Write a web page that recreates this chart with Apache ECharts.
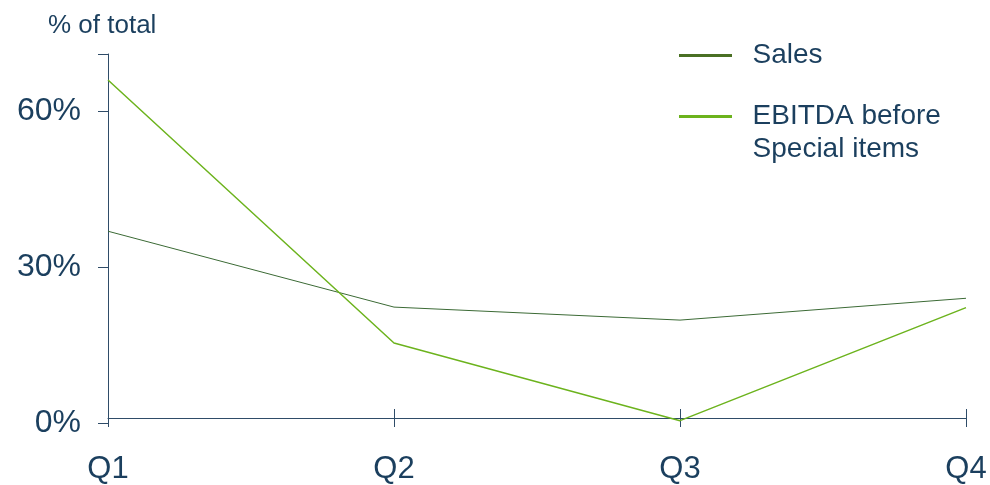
<!DOCTYPE html>
<html>
<head>
<meta charset="utf-8">
<script src="https://cdn.jsdelivr.net/npm/echarts@6/dist/echarts.min.js"></script>
<style>
  html, body { margin: 0; padding: 0; background: #fff; }
  #chart { width: 990px; height: 485px; }
</style>
</head>
<body>
<div id="chart"></div>
<script>
const quarters = ['Q1', 'Q2', 'Q3', 'Q4'];
const sales = [36.9, 22.3, 19.8, 24.0];
const ebitda = [66.0, 15.4, 0.45, 22.2];
const seriesNames = ['Sales', 'EBITDA before\nSpecial items'];

const textColor = '#1b3f5e';
const axisColor = '#2f4c68';
const font = 'Liberation Sans, Arial, sans-serif';

// legend text sits ~19px right of the line icon, first line level with icon
const legendLabel = name => {
  const lines = name.split('\n').map(s => '  ' + s);
  if (lines.length > 1) lines.unshift('\u00a0');
  return lines.join('\n');
};

const chart = echarts.init(document.getElementById('chart'));

const option = {
  animation: false,
  title: {
    text: '% of total',
    left: 48,
    top: 13,
    padding: 0,
    textStyle: { fontFamily: font, fontSize: 26, fontWeight: 'normal', color: textColor }
  },
  legend: [
    {
      data: [seriesNames[0]],
      left: 679,
      top: 39,
      padding: 0,
      icon: 'rect',
      itemWidth: 53,
      itemHeight: 3,
      formatter: legendLabel,
      textStyle: { fontFamily: font, fontSize: 28, color: textColor, lineHeight: 33 }
    },
    {
      data: [seriesNames[1]],
      left: 679,
      top: 67,
      padding: 0,
      icon: 'rect',
      itemWidth: 53,
      itemHeight: 3,
      formatter: legendLabel,
      textStyle: { fontFamily: font, fontSize: 28, color: textColor, lineHeight: 33 }
    }
  ],
  grid: { left: 108, right: 24, top: 54, bottom: 61 },
  xAxis: [
    {
      type: 'category',
      data: quarters,
      boundaryGap: false,
      axisLine: { onZero: true, onZeroAxisIndex: 1, lineStyle: { color: axisColor, width: 1 } },
      axisTick: { show: true, length: 9, lineStyle: { color: axisColor } },
      axisLabel: { fontFamily: font, fontSize: 31, color: textColor, margin: 31 }
    },
    {
      type: 'category',
      data: quarters,
      boundaryGap: false,
      position: 'bottom',
      axisLine: { show: false, onZero: true, onZeroAxisIndex: 1 },
      axisTick: { show: true, inside: true, length: 9, lineStyle: { color: axisColor } },
      axisLabel: { show: false }
    }
  ],
  yAxis: [
    {
      type: 'value',
      min: 0,
      max: 71,
      interval: 30,
      axisLine: { show: true, lineStyle: { color: axisColor, width: 1 } },
      axisTick: { show: true, length: 10, lineStyle: { color: axisColor } },
      splitLine: { show: false },
      axisLabel: {
        fontFamily: font, fontSize: 32, color: textColor, margin: 27,
        formatter: v => (v === 0 || v === 30 || v === 60) ? v + '%' : ''
      }
    },
    {
      type: 'value',
      min: -0.96,
      max: 70.04,
      show: false
    }
  ],
  series: [
    {
      name: seriesNames[0],
      type: 'line',
      data: sales,
      showSymbol: false,
      lineStyle: { color: '#3b6a35', width: 1 },
      itemStyle: { color: '#4a7024' }
    },
    {
      name: seriesNames[1],
      type: 'line',
      data: ebitda,
      showSymbol: false,
      lineStyle: { color: '#6cb31d', width: 1.5 },
      itemStyle: { color: '#6cb31d' }
    }
  ]
};

chart.setOption(option);
</script>
</body>
</html>
